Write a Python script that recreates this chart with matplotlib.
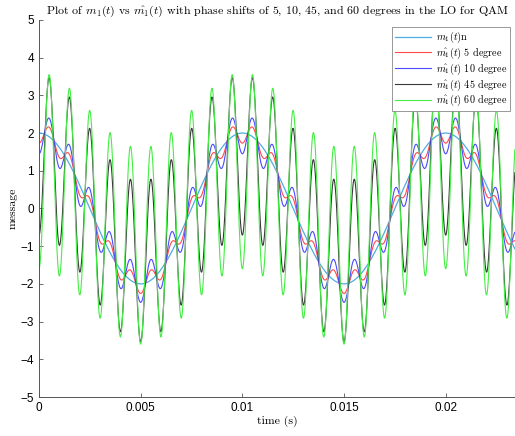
import numpy as np
import matplotlib.pyplot as plt

plt.rcParams['mathtext.fontset'] = 'cm'

# message parameters
A1, f1 = 2, 100      # m1(t) = A1 cos(2 pi f1 t)
A2, f2 = 3, 1000     # m2(t) = A2 cos(2 pi f2 t)
phases = [5, 10, 45, 60]  # LO phase error (degrees)
t_end = 0.0234

t = np.arange(0, t_end, 1e-6)
m1 = A1 * np.cos(2 * np.pi * f1 * t)
m2 = A2 * np.cos(2 * np.pi * f2 * t)

colors = ['#ff4a4a', '#4a4aff', '#383838', '#44ee44']
labels = [r'$\hat{m_1}(t)$ %d degree' % p for p in phases]

fig = plt.figure(figsize=(5.15, 4.36), dpi=100)
ax = fig.add_axes([0.0757, 0.0894, 0.924, 0.865])

ax.plot(t, m1, color='#4daee0', lw=0.9, label=r'$m_1(t)$n')
for p, c, lab in zip(phases, colors, labels):
    th = np.deg2rad(p)
    ax.plot(t, m1 * np.cos(th) - m2 * np.sin(th), color=c, lw=0.8, label=lab)

ax.set_xlim(0, t_end)
ax.set_ylim(-5, 5)
ax.set_xticks([0, 0.005, 0.01, 0.015, 0.02])
ax.set_xticklabels(['0', '0.005', '0.01', '0.015', '0.02'])
ax.set_yticks(range(-5, 6))
ax.tick_params(direction='in', length=3, labelsize=8.5, color='#555555', width=0.6)
for lab in ax.get_xticklabels() + ax.get_yticklabels():
    lab.set_fontfamily('Liberation Sans')
ax.spines['top'].set_visible(False)
ax.spines['right'].set_visible(False)
for s in ['left', 'bottom']:
    ax.spines[s].set_color('#555555')
    ax.spines[s].set_linewidth(0.7)

ax.set_xlabel('time (s)', family='cmr10', fontsize=8.5, labelpad=1)
ax.set_ylabel('message', family='cmr10', fontsize=8.5, labelpad=2)
ax.set_title(r'Plot of $m_1(t)$ vs $\hat{m_1}(t)$ with phase shifts of 5, 10, 45, and 60 degrees in the LO for QAM',
             family='cmr10', fontsize=8.6, pad=4)

leg = ax.legend(loc='upper right', bbox_to_anchor=(0.99, 0.98),
                prop={'family': 'cmr10', 'size': 7.3},
                fancybox=False, edgecolor='#888888', framealpha=1,
                borderaxespad=0, handlelength=3.6, handletextpad=0.5,
                labelspacing=0.05, borderpad=0.25)
leg.get_frame().set_linewidth(0.6)

fig.savefig('out.png', dpi=100)
